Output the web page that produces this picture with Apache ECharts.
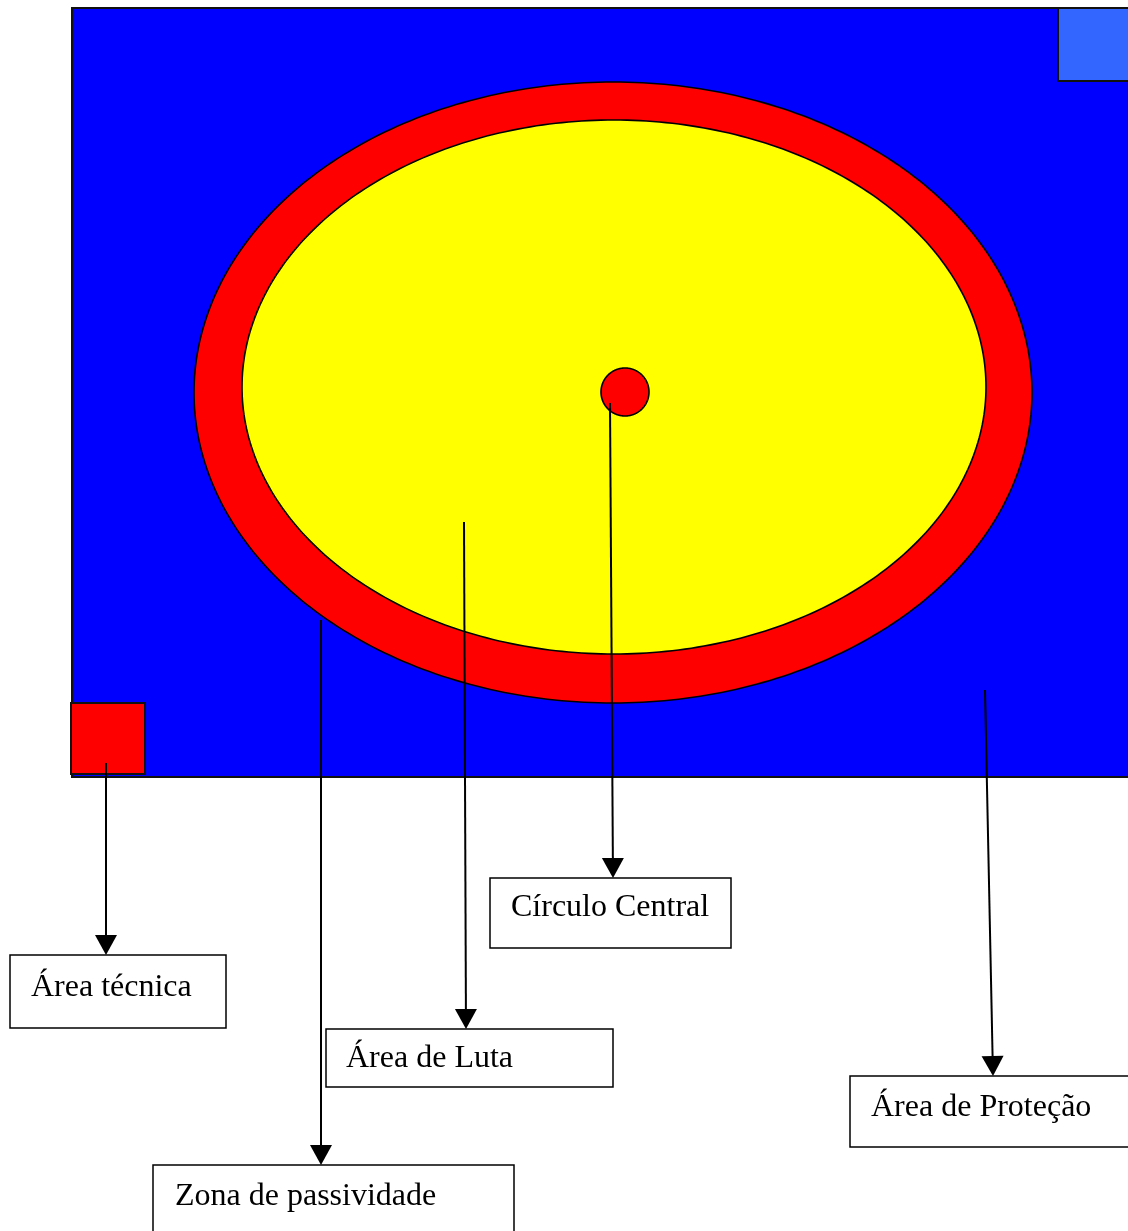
<!DOCTYPE html>
<html>
<head>
<meta charset="utf-8">
<script src="https://cdn.jsdelivr.net/npm/echarts@6/dist/echarts.min.js"></script>
<style>
html,body{margin:0;padding:0;background:#fff;}
#chart{width:1128px;height:1231px;}
</style>
</head>
<body>
<div id="chart"></div>
<script>
// Diagram coordinates (x to the right, y downward), in diagram units
const rectNames = ['Área de Proteção (fundo)', 'Canto azul', 'Canto vermelho'];
const rectBounds = [[72, 8, 1140, 777], [1058, 8, 1140, 81], [71, 703, 145, 774]];
const rectColors = ['#0000FF', '#3366FF', '#FF0000'];

const ellipseNames = ['Zona de passividade', 'Área de Luta', 'Círculo Central'];
const ellipseParams = [[613, 392.5, 419, 310.5], [614, 387, 372, 267], [625, 392, 24, 24]];
const ellipseColors = ['#FF0000', '#FFFF00', '#FF0000'];

const labelTexts = ['Área técnica', 'Zona de passividade', 'Área de Luta', 'Círculo Central', 'Área de Proteção'];
const labelBoxes = [[10, 955, 226, 1028], [153, 1165, 514, 1240], [326, 1029, 613, 1087], [490, 878, 731, 948], [850, 1076, 1140, 1147]];
const labelTextPos = [[31, 988], [175, 1197], [346, 1059], [511, 908], [871, 1108]];
const arrowFrom = [[106, 763], [321, 620], [464, 522], [610, 403], [985, 690]];
const arrowTo = [[106, 955], [321, 1165], [466, 1029], [613, 878], [993, 1076]];

const chart = echarts.init(document.getElementById('chart'), null, {renderer: 'canvas'});

function rectItem(params, api) {
  const i = params.dataIndex;
  const b = rectBounds[i];
  const p0 = api.coord([b[0], b[1]]);
  const p1 = api.coord([b[2], b[3]]);
  return {
    type: 'rect',
    shape: {x: p0[0], y: p0[1], width: p1[0] - p0[0], height: p1[1] - p0[1]},
    style: {fill: rectColors[i], stroke: '#111', lineWidth: 2}
  };
}

function ellipseItem(params, api) {
  const i = params.dataIndex;
  const e = ellipseParams[i];
  const pts = [];
  const N = 360;
  for (let k = 0; k < N; k++) {
    const t = 2 * Math.PI * k / N;
    pts.push(api.coord([e[0] + e[2] * Math.cos(t), e[1] + e[3] * Math.sin(t)]));
  }
  return {
    type: 'polygon',
    shape: {points: pts},
    style: {fill: ellipseColors[i], stroke: '#000', lineWidth: 1.6}
  };
}

function arrowItem(params, api) {
  const i = params.dataIndex;
  const a = api.coord(arrowFrom[i]);
  const b = api.coord(arrowTo[i]);
  const dx = b[0] - a[0], dy = b[1] - a[1];
  const len = Math.sqrt(dx * dx + dy * dy);
  const ux = dx / len, uy = dy / len;
  const hl = 20, hw = 11;
  const base = [b[0] - ux * hl, b[1] - uy * hl];
  const left = [base[0] - uy * hw, base[1] + ux * hw];
  const right = [base[0] + uy * hw, base[1] - ux * hw];
  return {
    type: 'group',
    children: [
      {type: 'line', shape: {x1: a[0], y1: a[1], x2: base[0], y2: base[1]}, style: {stroke: '#000', lineWidth: 2}},
      {type: 'polygon', shape: {points: [b, left, right]}, style: {fill: '#000'}}
    ]
  };
}

function labelItem(params, api) {
  const i = params.dataIndex;
  const bx = labelBoxes[i];
  const p0 = api.coord([bx[0], bx[1]]);
  const p1 = api.coord([bx[2], bx[3]]);
  const tp = api.coord(labelTextPos[i]);
  return {
    type: 'group',
    children: [
      {type: 'rect', shape: {x: p0[0], y: p0[1], width: p1[0] - p0[0], height: p1[1] - p0[1]},
       style: {fill: '#fff', stroke: '#000', lineWidth: 1.5}},
      {type: 'text', x: tp[0], y: tp[1],
       style: {text: labelTexts[i], fill: '#000', font: '32px "Liberation Serif", "Times New Roman", serif',
               textAlign: 'left', textVerticalAlign: 'middle'}}
    ]
  };
}

chart.setOption({
  animation: false,
  backgroundColor: '#fff',
  grid: {left: 0, right: 0, top: 0, bottom: 0},
  xAxis: {type: 'value', min: 0, max: 1128, show: false},
  yAxis: {type: 'value', min: 0, max: 1231, inverse: true, show: false},
  series: [
    {type: 'custom', name: 'retângulos', renderItem: rectItem, data: rectNames.map((n, i) => ({name: n, value: [i]})), z: 1, silent: true},
    {type: 'custom', name: 'elipses', renderItem: ellipseItem, data: ellipseNames.map((n, i) => ({name: n, value: [i]})), z: 2, silent: true},
    {type: 'custom', name: 'rótulos', renderItem: labelItem, data: labelTexts.map((n, i) => ({name: n, value: [i]})), z: 3, silent: true},
    {type: 'custom', name: 'setas', renderItem: arrowItem, data: labelTexts.map((n, i) => ({name: n, value: [i]})), z: 4, silent: true}
  ]
});
</script>
</body>
</html>
